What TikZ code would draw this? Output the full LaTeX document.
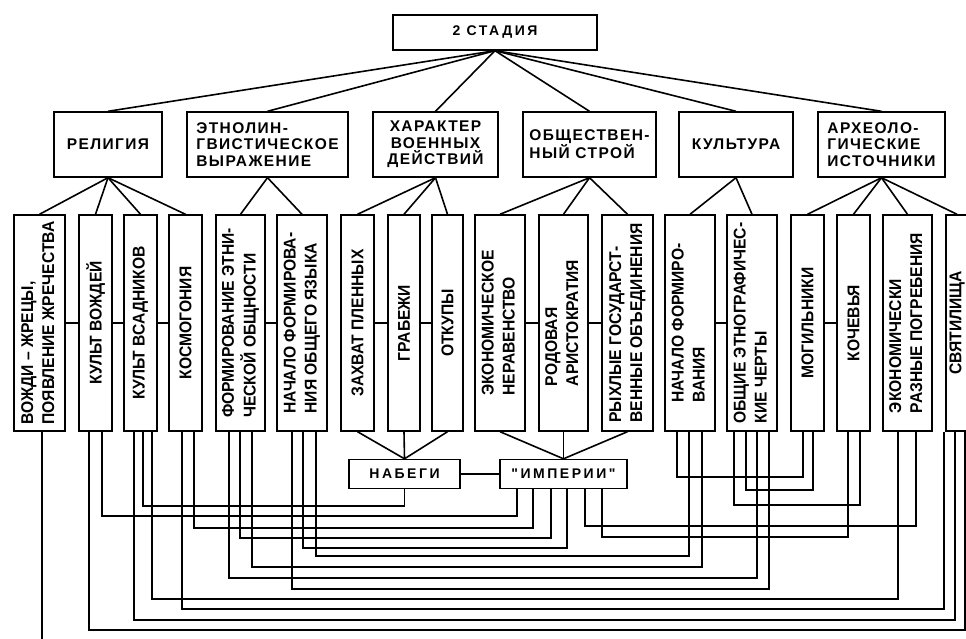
\documentclass[tikz,border=0pt]{standalone}
\usepackage{fontspec}
\usepackage{graphicx}
\setmainfont{Liberation Sans}
\newfontfamily\headfont[LetterSpace=9]{Liberation Sans}
\newfontfamily\spacedfont[LetterSpace=18]{Liberation Sans}
\newfontfamily\vertfont[FakeStretch=0.92]{Liberation Sans}
\tikzset{
  box/.style={draw,line width=1.4pt,inner sep=0pt},
  topbox/.style={box,minimum width=204,minimum height=35,font=\spacedfont\bfseries\fontsize{14}{15}\selectfont},
  headbox/.style={box,minimum height=65,align=left,font=\headfont\bfseries\fontsize{15.5}{16.5}\selectfont},
  vbox/.style={box,minimum height=216,font=\vertfont\bfseries\fontsize{17}{21}\selectfont},
  raidbox/.style={box,minimum height=29,font=\spacedfont\bfseries\fontsize{14}{15}\selectfont},
  wire/.style={line width=1.6pt},
}

\begin{document}
\begin{tikzpicture}[x=1pt,y=-1pt]
  \clip (0,0) rectangle (966,639);
  \node[topbox] (st) at (495,32.5) {2 СТАДИЯ};
  \node[headbox,minimum width=108] (rel) at (108,144.5) {РЕЛИГИЯ};
  \node[headbox,minimum width=161] (eth) at (267.5,144.5) {ЭТНОЛИН-\\ГВИСТИЧЕСКОЕ\\ВЫРАЖЕНИЕ};
  \node[headbox,minimum width=125,align=center] (war) at (435.5,144.5) {ХАРАКТЕР\\ВОЕННЫХ\\ДЕЙСТВИЙ};
  \node[headbox,minimum width=133] (soc) at (589.5,144.5) {ОБЩЕСТВЕН-\\НЫЙ СТРОЙ};
  \node[headbox,minimum width=114] (cul) at (736,144.5) {КУЛЬТУРА};
  \node[headbox,minimum width=127] (arc) at (881.5,144.5) {АРХЕОЛО-\\ГИЧЕСКИЕ\\ИСТОЧНИКИ};
  \foreach \n in {rel,eth,war,soc,cul,arc} \draw[wire] (st.south) -- (\n.north);

  \node[vbox,minimum width=51] (b1) at (39.5,323) {\rotatebox{90}{\begin{tabular}{@{}l@{}}ВОЖДИ – ЖРЕЦЫ,\\ПОЯВЛЕНИЕ ЖРЕЧЕСТВА\end{tabular}}};
  \node[vbox,minimum width=33] (b2) at (95.5,323) {\rotatebox{90}{КУЛЬТ ВОЖДЕЙ}};
  \node[vbox,minimum width=33] (b3) at (140.5,323) {\rotatebox{90}{КУЛЬТ ВСАДНИКОВ}};
  \node[vbox,minimum width=33] (b4) at (185.5,323) {\rotatebox{90}{КОСМОГОНИЯ}};
  \node[vbox,minimum width=49] (b5) at (240.5,323) {\rotatebox{90}{\begin{tabular}{@{}l@{}}ФОРМИРОВАНИЕ ЭТНИ-\\ЧЕСКОЙ ОБЩНОСТИ\end{tabular}}};
  \node[vbox,minimum width=50] (b6) at (302,323) {\rotatebox{90}{\begin{tabular}{@{}l@{}}НАЧАЛО ФОРМИРОВА-\\НИЯ ОБЩЕГО ЯЗЫКА\end{tabular}}};
  \node[vbox,minimum width=33] (b7) at (357.5,323) {\rotatebox{90}{ЗАХВАТ ПЛЕННЫХ}};
  \node[vbox,minimum width=32] (b8) at (404,323) {\rotatebox{90}{ГРАБЕЖИ}};
  \node[vbox,minimum width=31] (b9) at (447.5,323) {\rotatebox{90}{ОТКУПЫ}};
  \node[vbox,minimum width=50] (b10) at (500,323) {\rotatebox{90}{\begin{tabular}{@{}l@{}}ЭКОНОМИЧЕСКОЕ\\НЕРАВЕНСТВО\end{tabular}}};
  \node[vbox,minimum width=49] (b11) at (563.5,323) {\rotatebox{90}{\begin{tabular}{@{}l@{}}РОДОВАЯ\\АРИСТОКРАТИЯ\end{tabular}}};
  \node[vbox,minimum width=51] (b12) at (627.5,323) {\rotatebox{90}{\begin{tabular}{@{}l@{}}РЫХЛЫЕ ГОСУДАРСТ-\\ВЕННЫЕ ОБЪЕДИНЕНИЯ\end{tabular}}};
  \node[vbox,minimum width=50] (b13) at (690,323) {\rotatebox{90}{\begin{tabular}{@{}l@{}}НАЧАЛО ФОРМИРО-\\ВАНИЯ\end{tabular}}};
  \node[vbox,minimum width=50] (b14) at (752,323) {\rotatebox{90}{\begin{tabular}{@{}l@{}}ОБЩИЕ ЭТНОГРАФИЧЕС-\\КИЕ ЧЕРТЫ\end{tabular}}};
  \node[vbox,minimum width=33] (b15) at (807.5,323) {\rotatebox{90}{МОГИЛЬНИКИ}};
  \node[vbox,minimum width=33] (b16) at (853.5,323) {\rotatebox{90}{КОЧЕВЬЯ}};
  \node[vbox,minimum width=49] (b17) at (907.5,323) {\rotatebox{90}{\begin{tabular}{@{}l@{}}ЭКОНОМИЧЕСКИ\\РАЗНЫЕ ПОГРЕБЕНИЯ\end{tabular}}};
  \node[vbox,minimum width=22] (b18) at (957,323) {\rotatebox{90}{СВЯТИЛИЩА}};

  \foreach \n in {b1,b2,b3,b4} \draw[wire] (rel.south) -- (\n.north);
  \foreach \n in {b5,b6} \draw[wire] (eth.south) -- (\n.north);
  \foreach \n in {b7,b8,b9} \draw[wire] (war.south) -- (\n.north);
  \foreach \n in {b10,b11,b12} \draw[wire] (soc.south) -- (\n.north);
  \foreach \n in {b13,b14} \draw[wire] (cul.south) -- (\n.north);
  \foreach \n in {b15,b16,b17,b18} \draw[wire] (arc.south) -- (\n.north);
  \foreach \a/\b in {b1/b2,b2/b3,b3/b4,b5/b6,b7/b8,b8/b9,b10/b11,b11/b12,b13/b14,b15/b16}
    \draw[wire] (\a.east) -- (\b.west);

  \node[raidbox,minimum width=111] (nab) at (404.5,474) {НАБЕГИ};
  \node[raidbox,minimum width=127] (imp) at (563.5,474) {"ИМПЕРИИ"};
  \draw[wire] (nab.east) -- (imp.west);
  \foreach \n in {b7,b8,b9} \draw[wire] (\n.south) -- (nab.north);
  \foreach \n in {b10,b11,b12} \draw[wire] (\n.south) -- (imp.north);

  \draw[wire] ([xshift=2.5]b3.south) --++ (0,74) -| (nab.south);
  \draw[wire] ([xshift=6.5]b2.south) --++ (0,84) -| ([xshift=-46.5]imp.south);
  \draw[wire] ([xshift=8.5]b4.south) --++ (0,96) -| ([xshift=-30.5]imp.south);
  \draw[wire] ([xshift=-0.5]b5.south) --++ (0,106) -| ([xshift=-12.5]imp.south);
  \draw[wire] ([xshift=1]b6.south) --++ (0,116) -| ([xshift=3.5]imp.south);
  \draw[wire] ([xshift=8.5]b17.south) --++ (0,94) -| ([xshift=21.5]imp.south);
  \draw[wire] ([xshift=-5.5]b16.south) --++ (0,105) -| ([xshift=38.5]imp.south);
  \draw[wire] ([xshift=-13]b13.south) --++ (0,45) -| ([xshift=-4.5]b15.south);
  \draw[wire] ([xshift=-6]b14.south) --++ (0,58) -| ([xshift=5.5]b15.south);
  \draw[wire] ([xshift=-18]b14.south) --++ (0,73) -| ([xshift=6.5]b16.south);
  \draw[wire] ([xshift=14]b6.south) --++ (0,124) -| ([xshift=-1]b13.south);
  \draw[wire] ([xshift=11.5]b5.south) --++ (0,135) -| ([xshift=12]b13.south);
  \draw[wire] ([xshift=-11.5]b5.south) --++ (0,146) -| ([xshift=5]b14.south);
  \draw[wire] ([xshift=-10]b6.south) --++ (0,157) -| ([xshift=17]b14.south);
  \draw[wire] ([xshift=11.5]b3.south) --++ (0,167) -| ([xshift=-9.5]b17.south);
  \draw[wire] ([xshift=-3.5]b4.south) --++ (0,177) -| ([xshift=-13]b18.south);
  \draw[wire] ([xshift=-6.5]b3.south) --++ (0,188) -| ([xshift=-2]b18.south);
  \draw[wire] ([xshift=-6.5]b2.south) --++ (0,198) -| ([xshift=8]b18.south);
  \draw[wire] ([xshift=2.5]b1.south) --++ (0,220);
\end{tikzpicture}
\end{document}
